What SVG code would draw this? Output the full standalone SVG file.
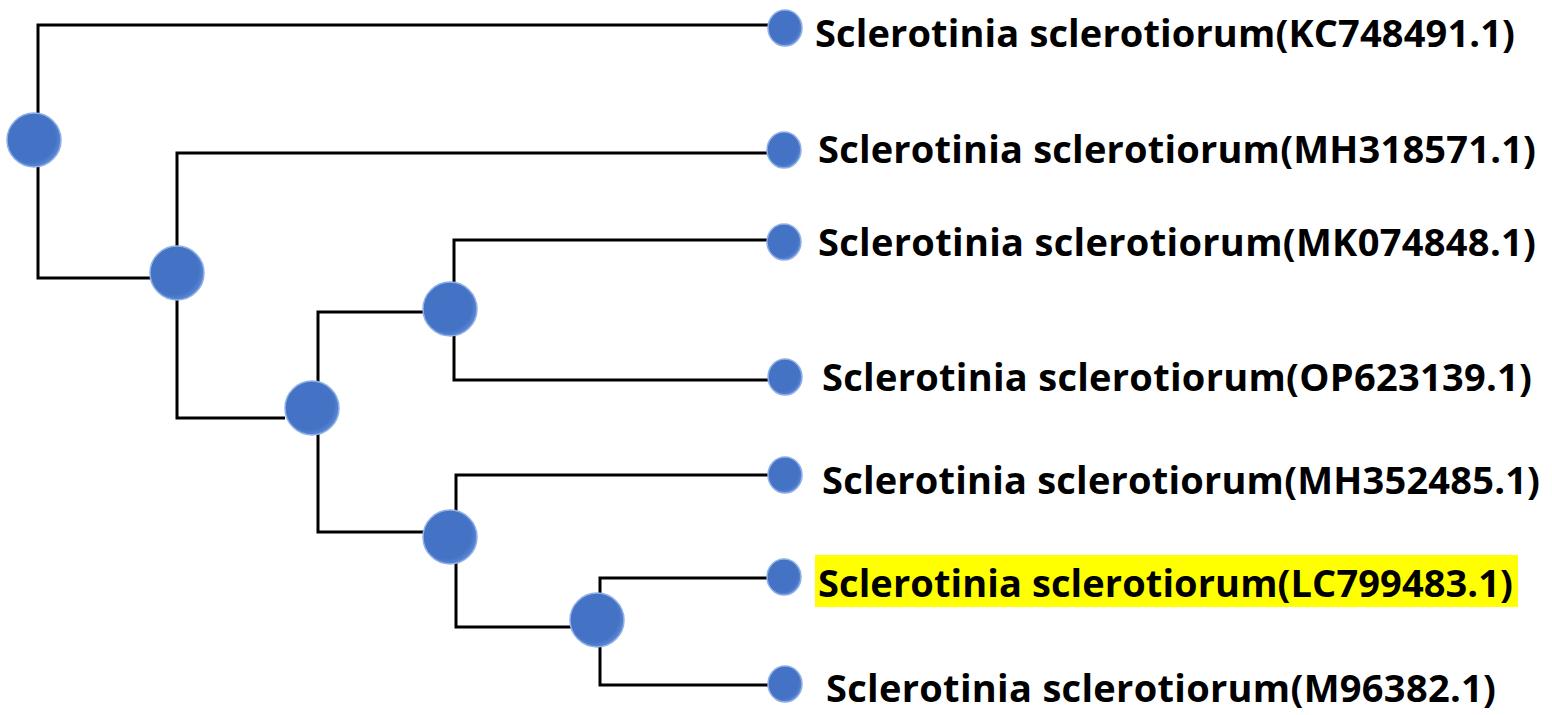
<svg xmlns="http://www.w3.org/2000/svg" width="1552" height="715" viewBox="0 0 1552 715">
<style>
.e{fill:none;stroke:#000;stroke-width:3}
.t{font-family:"Open Sans","Liberation Sans",sans-serif;font-weight:bold;font-size:38px;fill:#000}
.n{fill:url(#g);stroke:#8fb0e8;stroke-width:1.5}
</style>
<defs>
<radialGradient id="g" cx="0.45" cy="0.45" r="0.6">
<stop offset="0.75" stop-color="#4472c4"/><stop offset="0.92" stop-color="#5a86d4"/><stop offset="1" stop-color="#c8d8f4"/>
</radialGradient>
</defs>
<rect width="1552" height="715" fill="#fff"/>
<g id="connectors">
<path class="e" d="M780,25H38V278H150"/>
<path class="e" d="M780,153H177V418H285"/>
<path class="e" d="M425,312H318V532H425"/>
<path class="e" d="M780,240H454V380H780"/>
<path class="e" d="M780,475H456V627H573"/>
<path class="e" d="M780,578H600V685H780"/>
</g>
<g id="internal-nodes">
<circle class="n" cx="34" cy="140" r="27"/>
<circle class="n" cx="177" cy="273" r="27"/>
<circle class="n" cx="312" cy="408" r="27"/>
<circle class="n" cx="450" cy="309" r="27"/>
<circle class="n" cx="450" cy="537" r="27"/>
<circle class="n" cx="597" cy="620" r="27"/>
</g>
<g id="leaf1"><ellipse class="n" cx="785" cy="28" rx="17" ry="18"/><text class="t" x="815" y="47" textLength="700">Sclerotinia sclerotiorum(KC748491.1)</text></g>
<g id="leaf2"><ellipse class="n" cx="784" cy="150" rx="17" ry="18"/><text class="t" x="818" y="163" textLength="718">Sclerotinia sclerotiorum(MH318571.1)</text></g>
<g id="leaf3"><ellipse class="n" cx="784" cy="242" rx="17" ry="18"/><text class="t" x="818" y="256" textLength="718">Sclerotinia sclerotiorum(MK074848.1)</text></g>
<g id="leaf4"><ellipse class="n" cx="785" cy="377" rx="17" ry="18"/><text class="t" x="822" y="391" textLength="710">Sclerotinia sclerotiorum(OP623139.1)</text></g>
<g id="leaf5"><ellipse class="n" cx="785" cy="475" rx="17" ry="18"/><text class="t" x="822" y="494" textLength="718">Sclerotinia sclerotiorum(MH352485.1)</text></g>
<g id="leaf6"><rect x="815" y="555" width="703" height="52" fill="#ffff00"/><ellipse class="n" cx="784" cy="577" rx="17" ry="18"/><text class="t" x="818" y="597" textLength="695">Sclerotinia sclerotiorum(LC799483.1)</text></g>
<g id="leaf7"><ellipse class="n" cx="785" cy="684" rx="17" ry="18"/><text class="t" x="826" y="702" textLength="670">Sclerotinia sclerotiorum(M96382.1)</text></g>
</svg>
